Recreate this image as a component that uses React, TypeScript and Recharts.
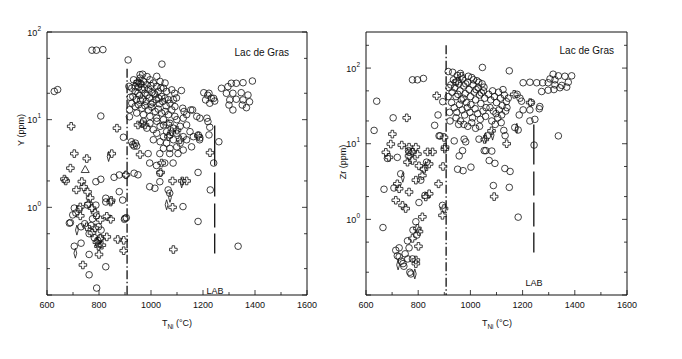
import { ScatterChart, Scatter, XAxis, YAxis, ReferenceLine } from "recharts"

// T_Ni (°C) vs Y (ppm) - left panel
const yCircles: [number, number][] = [
  [773, 62], [790, 62], [815, 63], [912, 48], [1042, 43], [968, 33], [628, 21], [641, 22], [807, 11], [894, 6.3],
  [933, 28.5], [945, 26.2], [958, 29.8], [971, 27.3], [984, 25], [996, 28.5], [1009, 26.2], [1022, 24], [1035, 27.3],
  [1048, 22.9], [1060, 21], [926, 22.9], [939, 21], [952, 23.6], [965, 21.9], [977, 20.1], [990, 22.3], [1003, 20.4],
  [1016, 19.2], [1028, 21], [1041, 18.4], [1054, 17.6], [1067, 16.9], [930, 18.4], [943, 16.9], [956, 18.8], [968, 17.2],
  [981, 16.1], [994, 17.6], [1007, 15.7], [1020, 16.9], [1032, 15.2], [1045, 16.1], [1058, 14.4], [1073, 15.4],
  [1086, 16.9], [926, 15.4], [939, 14.1], [952, 14.8], [965, 13.5], [977, 14.4], [990, 12.9], [1003, 13.9], [1016, 12.4],
  [1028, 13.2], [1041, 11.9], [1054, 12.4], [1067, 11.4], [1080, 12.9], [1092, 10.9], [945, 11.9], [971, 11.4],
  [996, 10.9], [1022, 10.4], [1048, 10], [958, 32.6], [985, 31], [1022, 31.2], [1054, 26.2], [1080, 21.9],
  [940, 24], [962, 25.5], [1000, 24.5], [975, 23], [1012, 20], [950, 20], [985, 19], [1038, 23], [960, 16.5],
  [1000, 15], [1030, 17.5], [915, 24], [920, 18], [918, 13], [917, 10.8],
  [971, 9.6], [996, 9.1], [1022, 9.6], [1048, 8.7], [1073, 9.1], [1099, 10], [1124, 10.4], [984, 8], [1009, 7.7],
  [1035, 8.4], [1060, 7.3], [1086, 8], [1112, 8.4], [1137, 8.7], [1022, 7], [1048, 6.4], [1073, 6.7], [1099, 7],
  [1124, 6.4], [1150, 7.3], [1035, 5.6], [1060, 5.4], [1086, 5.9], [1112, 5.4], [1137, 5.9], [1163, 6.4], [1073, 4.7],
  [1099, 4.9], [1124, 4.5], [1048, 4.7], [1156, 4.9], [1009, 5.9], [1188, 6.2], [1182, 6.7], [1160, 12.9], [1122, 13.5],
  [1127, 12.4], [1092, 14.1], [1153, 12.9], [1137, 11.4], [1176, 10.9], [1188, 10.4],
  [989, 4.1], [1034, 4.1], [1072, 4.1], [1104, 4.1], [995, 3.2], [1021, 3], [1053, 3.2], [1085, 3.2], [1034, 2.45],
  [995, 1.72], [1015, 1.65], [1034, 1.96], [1066, 1.58], [1072, 1.45], [1123, 1.02], [1181, 2.5], [1228, 1.58], [1181, 0.69],
  [1203, 20.3], [1223, 20], [1210, 16.8], [1241, 17.5], [1226, 15.4], [1245, 16.3], [1271, 22.8], [1296, 23.8],
  [1309, 26], [1328, 26], [1354, 26.4], [1390, 27.6], [1290, 20], [1315, 20], [1347, 20.3], [1373, 19.1], [1303, 16.8],
  [1328, 17.1], [1354, 16.8], [1379, 16], [1300, 14.7], [1315, 12.9], [1351, 14.7], [1367, 13.7],
  [1091, 20], [1117, 21.5], [1098, 17.7], [1218, 19], [1232, 17.6],
  [1215, 10.4], [1219, 9.5], [1226, 8.2], [1223, 6.7], [1261, 5.6], [1187, 5.9], [1241, 3.2], [1335, 0.36],
  [788, 1.96], [807, 2.09], [858, 2.2], [878, 2.34], [903, 2.34], [935, 2.45], [878, 1.51], [891, 1.21], [826, 1.27],
  [705, 0.98], [724, 0.95], [686, 0.66], [699, 0.82], [711, 0.86], [731, 0.6], [756, 1.06], [788, 1.06], [705, 0.36],
  [731, 0.39], [762, 0.29], [826, 0.21], [762, 0.17], [791, 0.12], [826, 1.15], [775, 0.74], [762, 0.5], [782, 0.45],
  [900, 0.75], [905, 0.76], [898, 0.73], [925, 5.6], [930, 5.2], [935, 5], [940, 5.4], [945, 5], [690, 0.67],
  [795, 0.42], [800, 0.38], [805, 0.45], [798, 0.6], [790, 0.8], [808, 0.55], [770, 0.62], [745, 0.65], [950, 2.35],
]

const yCrosses: [number, number][] = [
  [693, 8.4], [705, 4.1], [753, 3.6], [690, 2.8], [667, 2.1], [672, 2], [734, 1.97], [741, 1.71], [756, 1.5],
  [713, 1.58], [766, 1.28], [728, 1.01], [773, 0.98], [728, 0.8], [785, 0.87], [805, 0.72], [830, 0.79], [845, 0.73],
  [753, 0.6], [773, 0.51], [805, 0.44], [830, 0.46], [800, 0.29], [738, 0.22], [869, 8], [849, 4.1], [872, 0.43],
  [895, 0.42], [895, 0.32], [904, 2.35], [958, 4], [956, 26], [1086, 0.33], [1120, 2], [1083, 2], [1083, 1],
  [1037, 2.5], [1041, 3.2], [1227, 4.2], [1137, 2], [1182, 6.5], [977, 8.7], [1067, 6.4], [1080, 7.3], [1112, 5.9],
  [847, 1.2], [792, 0.4], [798, 0.36], [811, 0.37], [845, 1.15], [760, 1.1], [785, 0.58], [950, 27], [950, 8.7],
  [965, 9], [1064, 9], [1100, 7.6],
]

const yLenses: [number, number][] = [
  [837, 3.8], [715, 0.55], [709, 0.3], [1118, 1.9], [1060, 1.07], [1073, 1.3],
]

const yTriangles: [number, number][] = [[747, 2.7]]

// T_Ni (°C) vs Zr (ppm) - right panel
const zrCircles: [number, number][] = [
  [778, 70], [797, 70], [820, 73], [915, 90], [1046, 102], [1149, 92], [641, 36.5], [704, 22], [876, 24], [863, 17.5],
  [894, 36], [884, 12.7],
  [1202, 64], [1228, 65], [1254, 64], [1277, 64], [1298, 64], [1317, 83], [1337, 79], [1362, 78], [1388, 79],
  [1375, 65], [1350, 59], [1324, 60], [1273, 49], [1298, 51], [1320, 52], [1343, 55], [1369, 56], [1324, 70],
  [1305, 72], [1266, 31], [1202, 28], [1228, 28], [1190, 40], [1179, 45], [1196, 36.5], [1234, 35], [1247, 21],
  [1228, 20], [1170, 16.4], [1183, 15.2], [1337, 12.7], [1244, 9.6], [1264, 29],
  [631, 15], [720, 6.6], [707, 2.6], [665, 0.78], [714, 0.39], [727, 0.32], [742, 0.26], [765, 0.42], [768, 0.2],
  [759, 0.52], [791, 0.93], [803, 1.67], [826, 2.08], [832, 5.7], [810, 3.3], [763, 8.1], [765, 7.7], [733, 4],
  [880, 12.7], [893, 1.53], [682, 6.4], [669, 2.5],
  [938, 10.9], [976, 11.5], [982, 10.6], [970, 8.1], [957, 6.9], [972, 4.4], [951, 4.6], [1002, 4.9], [1033, 11.5],
  [1053, 8.1], [1059, 8.1], [1072, 6], [1082, 8], [1094, 5.5], [1088, 2.8], [1132, 4.7], [1152, 4.3], [1149, 2.65],
  [1183, 1.07], [1133, 12.8], [1187, 24], [1065, 12.7],
  [720, 0.33], [735, 0.28], [750, 0.35], [778, 0.3], [772, 0.19], [795, 0.62], [780, 0.72], [745, 0.24], [727, 0.42],
  [760, 0.3],
  [925, 60], [930, 48], [935, 70], [940, 55], [945, 42], [950, 80], [955, 62], [960, 50], [965, 38], [970, 72],
  [975, 58], [980, 46], [985, 35], [990, 65], [995, 52], [1000, 42], [1005, 75], [1010, 60], [1015, 48], [1020, 38],
  [1025, 68], [1030, 55], [1035, 44], [1040, 34], [1045, 62], [1050, 50], [1055, 40], [1060, 30], [928, 35],
  [938, 30], [948, 26], [958, 33], [968, 28], [978, 24], [988, 30], [998, 26], [1008, 22], [1018, 29], [1028, 25],
  [1038, 21], [1048, 27], [1058, 23], [932, 88], [942, 65], [952, 45], [962, 85], [972, 40], [982, 62], [992, 78],
  [1002, 33], [1012, 70], [1022, 52], [1032, 65], [1042, 47], [1052, 56], [962, 20], [975, 18], [990, 17], [1005, 19],
  [1020, 16], [1035, 17],
  [1070, 45], [1078, 38], [1085, 50], [1092, 42], [1100, 35], [1108, 48], [1115, 40], [1122, 32], [1130, 44],
  [1138, 36], [1075, 30], [1088, 27], [1098, 25], [1110, 28], [1120, 24], [1135, 27], [1082, 20], [1095, 18],
  [1105, 22], [1118, 19], [1128, 15], [1140, 30], [1145, 40], [1125, 52], [918, 55], [915, 42], [920, 26], [922, 20],
  [945, 22], [955, 18],
]

const zrCrosses: [number, number][] = [
  [701, 13.4], [695, 9.9], [737, 9.6], [676, 7.7], [688, 6.6], [765, 9], [791, 9], [778, 7.7], [765, 6.9], [797, 7.3],
  [836, 7.8], [855, 7.8], [778, 6], [759, 5.7], [803, 5.1], [842, 5.4], [822, 4.6], [816, 3.8], [791, 3.3],
  [720, 2.95], [727, 2.54], [765, 2.3], [714, 1.79], [740, 1.53], [752, 1.39], [829, 1.98], [842, 2.18], [816, 1.08],
  [797, 0.76], [803, 0.69], [778, 0.56], [801, 0.44], [791, 0.29], [791, 0.26], [878, 2.95], [899, 1.39], [893, 1.13],
  [895, 5], [903, 9], [899, 12.1], [871, 43], [756, 22], [950, 67], [966, 78], [1168, 45], [1229, 35], [1139, 10],
  [1091, 2], [1081, 14.8], [1055, 11.4], [902, 8.5],
]

const zrLenses: [number, number][] = [
  [723, 0.25], [787, 0.19], [741, 3.6], [828, 5], [1058, 12], [1178, 16], [1085, 13],
]

const tempTicks = [600, 700, 800, 900, 1000, 1100, 1200, 1300, 1400, 1500, 1600]
const yTicks = [0.1, 0.2, 0.5, 1, 2, 5, 10, 20, 50, 100]
const zrTicks = [0.1, 0.2, 0.5, 1, 2, 5, 10, 20, 50, 100, 200]

const FONT = "'Liberation Sans', Arial, Helvetica, sans-serif"
const INK = "#111"

const toPts = (rows: [number, number][]) => rows.map(([t, v]) => ({ t, v }))

const isDecade = (v: number) => Math.abs(Math.log10(v) - Math.round(Math.log10(v))) < 1e-6

const CircleMark = (p: any) => (
  <circle cx={p.cx} cy={p.cy} r={3.3} fill="none" stroke={INK} strokeWidth={0.8} />
)
const CrossMark = (p: any) => (
  <path
    transform={`translate(${p.cx},${p.cy})`}
    d="M-1.3,-3.8H1.3V-1.3H3.8V1.3H1.3V3.8H-1.3V1.3H-3.8V-1.3H-1.3Z"
    fill="none"
    stroke={INK}
    strokeWidth={0.8}
  />
)
const LensMark = (p: any) => (
  <path transform={`translate(${p.cx},${p.cy})`} d="M0,-5Q2.8,0 0,5Q-2.8,0 0,-5Z" fill="none" stroke={INK} strokeWidth={0.8} />
)
const TriangleMark = (p: any) => (
  <path transform={`translate(${p.cx},${p.cy})`} d="M0,-4L4,3L-4,3Z" fill="none" stroke={INK} strokeWidth={0.8} />
)

const BottomTick = ({ x, y, payload }: any) => {
  const major = payload.value % 200 === 0
  return (
    <g>
      <line x1={x} x2={x} y1={y} y2={y - (major ? 5 : 3)} stroke={INK} strokeWidth={0.8} />
      {major && (
        <text x={x} y={y + 13} textAnchor="middle" fontSize={9} fontFamily={FONT} fill={INK}>
          {payload.value}
        </text>
      )}
    </g>
  )
}
const TopTick = ({ x, y, payload }: any) => {
  const major = payload.value % 200 === 0
  return <line x1={x} x2={x} y1={y} y2={y + (major ? 5 : 3)} stroke={INK} strokeWidth={0.8} />
}
const LeftTick = ({ x, y, payload }: any) => {
  const major = isDecade(payload.value)
  const exp = Math.round(Math.log10(payload.value))
  return (
    <g>
      <line x1={x} x2={x + (major ? 5 : 3)} y1={y} y2={y} stroke={INK} strokeWidth={0.8} />
      {major && exp >= 0 && (
        <text x={x - 6} y={y} textAnchor="end" fontSize={9} fontFamily={FONT} fill={INK}>
          <tspan dy={3.5}>10</tspan>
          <tspan dy={-5} fontSize={6.5}>{exp}</tspan>
        </text>
      )}
    </g>
  )
}
const RightTick = ({ x, y, payload }: any) => {
  const major = isDecade(payload.value)
  return <line x1={x} x2={x - (major ? 5 : 3)} y1={y} y2={y} stroke={INK} strokeWidth={0.8} />
}

interface PanelProps {
  circles: [number, number][]
  crosses: [number, number][]
  lenses: [number, number][]
  triangles: [number, number][]
  yDomain: [number, number]
  ticks: number[]
  margin: { top: number; right: number; bottom: number; left: number }
  yWidth: number
  dashDot: [number, number, number]
  lab: [number, number, number]
}

function Panel({ circles, crosses, lenses, triangles, yDomain, ticks, margin, yWidth, dashDot, lab }: PanelProps) {
  return (
    <ScatterChart width={341} height={359} margin={margin}>
      <XAxis
        xAxisId="b"
        dataKey="t"
        type="number"
        domain={[600, 1600]}
        ticks={tempTicks}
        interval={0}
        height={30}
        tickSize={0}
        tickMargin={0}
        tickLine={false}
        tick={<BottomTick />}
        axisLine={{ stroke: INK }}
      />
      <XAxis
        xAxisId="t"
        orientation="top"
        type="number"
        domain={[600, 1600]}
        ticks={tempTicks}
        interval={0}
        height={1}
        tickSize={0}
        tickMargin={0}
        tickLine={false}
        tick={<TopTick />}
        axisLine={{ stroke: INK }}
      />
      <YAxis
        yAxisId="l"
        dataKey="v"
        type="number"
        scale="log"
        domain={yDomain}
        allowDataOverflow
        ticks={ticks}
        interval={0}
        width={yWidth}
        tickSize={0}
        tickMargin={0}
        tickLine={false}
        tick={<LeftTick />}
        axisLine={{ stroke: INK }}
      />
      <YAxis
        yAxisId="r"
        orientation="right"
        type="number"
        scale="log"
        domain={yDomain}
        allowDataOverflow
        ticks={ticks}
        interval={0}
        width={1}
        tickSize={0}
        tickMargin={0}
        tickLine={false}
        tick={<RightTick />}
        axisLine={{ stroke: INK }}
      />
      <ReferenceLine
        xAxisId="b"
        yAxisId="l"
        segment={[{ x: dashDot[0], y: dashDot[1] }, { x: dashDot[0], y: dashDot[2] }]}
        stroke={INK}
        strokeWidth={1.3}
        strokeDasharray="9 2.5 1.5 2.5"
      />
      <ReferenceLine
        xAxisId="b"
        yAxisId="l"
        segment={[{ x: lab[0], y: lab[1] }, { x: lab[0], y: lab[2] }]}
        stroke={INK}
        strokeWidth={1.3}
        strokeDasharray="40 7 24 7 24 6 20"
      />
      <Scatter xAxisId="b" yAxisId="l" data={toPts(circles)} shape={CircleMark} isAnimationActive={false} />
      <Scatter xAxisId="b" yAxisId="l" data={toPts(crosses)} shape={CrossMark} isAnimationActive={false} />
      <Scatter xAxisId="b" yAxisId="l" data={toPts(lenses)} shape={LensMark} isAnimationActive={false} />
      <Scatter xAxisId="b" yAxisId="l" data={toPts(triangles)} shape={TriangleMark} isAnimationActive={false} />
    </ScatterChart>
  )
}

export default function App() {
  return (
    <div style={{ position: "absolute", left: 0, top: 0, width: 682, height: 359, background: "#fff" }}>
      <div style={{ position: "absolute", left: 0, top: 0 }}>
        <Panel
          circles={yCircles}
          crosses={yCrosses}
          lenses={yLenses}
          triangles={yTriangles}
          yDomain={[0.1, 100]}
          ticks={yTicks}
          margin={{ top: 31, right: 33, bottom: 34, left: 12 }}
          yWidth={35}
          dashDot={[908, 38, 0.1]}
          lab={[1245, 8.6, 0.26]}
        />
      </div>
      <div style={{ position: "absolute", left: 341, top: 0 }}>
        <Panel
          circles={zrCircles}
          crosses={zrCrosses}
          lenses={zrLenses}
          triangles={[]}
          yDomain={[0.1, 300]}
          ticks={zrTicks}
          margin={{ top: 31, right: 54, bottom: 34, left: 0 }}
          yWidth={25}
          dashDot={[907, 200, 0.1]}
          lab={[1243, 18, 0.33]}
        />
      </div>
      <svg width={682} height={359} style={{ position: "absolute", left: 0, top: 0, pointerEvents: "none" }} fontFamily={FONT} fill={INK}>
        <text x={23.5} y={130} transform="rotate(-90 23.5 130)" textAnchor="middle" fontSize={9}>Y (ppm)</text>
        <text x={346} y={162} transform="rotate(-90 346 162)" textAnchor="middle" fontSize={9}>Zr (ppm)</text>
        <text x={177} y={326} textAnchor="middle" fontSize={9}>
          <tspan>T</tspan>
          <tspan dy={2.5} fontSize={6.5}>Ni</tspan>
          <tspan dy={-2.5}> (°C)</tspan>
        </text>
        <text x={497} y={326} textAnchor="middle" fontSize={9}>
          <tspan>T</tspan>
          <tspan dy={2.5} fontSize={6.5}>Ni</tspan>
          <tspan dy={-2.5}> (°C)</tspan>
        </text>
        <text x={289} y={56} textAnchor="end" fontSize={10}>Lac de Gras</text>
        <text x={614} y={54} textAnchor="end" fontSize={10}>Lac de Gras</text>
        <text x={215} y={293.5} textAnchor="middle" fontSize={9}>LAB</text>
        <text x={534} y={285.5} textAnchor="middle" fontSize={9}>LAB</text>
      </svg>
    </div>
  )
}
